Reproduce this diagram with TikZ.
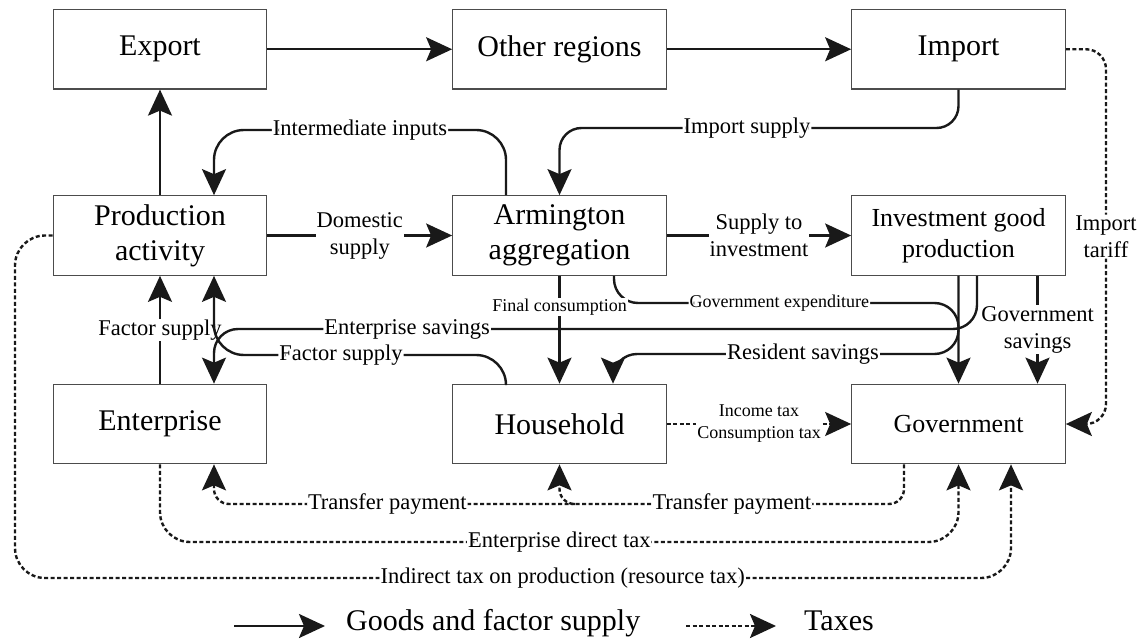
\documentclass[tikz,border=0pt]{standalone}
\usepackage{fontspec}
\setmainfont{Liberation Serif}
\usetikzlibrary{arrows.meta}
\begin{document}
\begin{tikzpicture}[x=1pt,y=-1pt,
 box/.style={draw=black!70,line width=1.2pt,minimum width=213.5pt,minimum height=79.5pt,inner sep=0pt,align=center,font=\fontsize{30}{35}\selectfont},
 boxs/.style={box,font=\fontsize{26}{31}\selectfont},
 flow/.style={line width=2.4pt,draw=black!90,-{Stealth[length=26pt,width=24pt,inset=5pt]}},
 tax/.style={flow,dash pattern=on 4pt off 2.5pt},
 lab/.style={fill=white,inner sep=1pt,font=\fontsize{22.5}{27}\selectfont,align=center,text=black},
 labs/.style={lab,font=\fontsize{18}{22}\selectfont},
 legtext/.style={anchor=mid west,inner sep=0pt,font=\fontsize{30}{35}\selectfont}
]
\useasboundingbox (0,0) rectangle (1142,644);

% boxes
\node[box] (exp) at (160,49.25) {Export};
\node[box] (oth) at (559.5,49.25) {Other regions};
\node[box] (imp) at (958.5,49.25) {Import};
\node[box] (prod) at (160,235.5) {Production\\activity};
\node[box] (arm) at (559.5,235.5) {Armington\\aggregation};
\node[boxs] (inv) at (958.5,235.5) {Investment good\\production};
\node[box] (ent) at (160,424) {Enterprise};
\node[box] (hh) at (559.5,424) {Household};
\node[boxs] (gov) at (958.5,424) {Government};

% top row
\draw[flow] (exp) -- (oth);
\draw[flow] (oth) -- (imp);
\draw[flow] (prod) -- (exp);

% intermediate inputs
\draw[flow,rounded corners=30pt] ([xshift=-53.5pt]arm.north) -- (506,130)
  -- node[lab]{Intermediate inputs} (214,130) -- ([xshift=54pt]prod.north);
% import supply
\draw[flow,rounded corners=22pt] (imp.south) -- (958.5,128)
  -- node[lab,pos=0.53]{Import supply} (559.5,128) -- (arm.north);

% middle row
\draw[flow] (prod) -- node[lab]{Domestic\\supply} (arm);
\draw[flow] (arm) -- node[lab]{Supply to\\investment} (inv);

% factor supply
\draw[flow] (ent) -- node[lab]{Factor supply} (prod);
\draw[flow,rounded corners=30pt] ([xshift=-53.5pt]hh.north) -- (506,355)
  -- node[lab,pos=0.565]{Factor supply} (214,355) -- ([xshift=54pt]prod.south);

% enterprise savings
\draw[flow,rounded corners=24pt] ([xshift=18.5pt]inv.south) -- (977,329)
  -- node[lab,pos=0.747]{Enterprise savings} (214,329) -- ([xshift=54pt]ent.north);
% resident savings
\draw[flow,rounded corners=24pt] (inv.south) -- (958.5,354)
  -- node[lab,pos=0.45]{Resident savings} (613,354) -- ([xshift=53.5pt]hh.north);
% government expenditure
\draw[flow,rounded corners=24pt] ([xshift=54.5pt]arm.south) -- (614,303)
  -- node[labs,pos=0.48]{Government expenditure} (958.5,303) -- (gov.north);
% government savings
\draw[flow] ([xshift=79pt]inv.south) -- node[lab]{Government\\savings} ([xshift=79pt]gov.north);
% final consumption
\draw[flow] (arm) -- node[labs,pos=0.29]{Final consumption} (hh);

% taxes
\draw[tax] (hh) -- node[labs]{Income tax\\Consumption tax} (gov);
\draw[tax,rounded corners=20pt] (imp.east) -- (1106,49.25)
  -- node[lab]{Import\\tariff} (1106,424) -- (gov.east);
\draw[tax,rounded corners=15pt] ([xshift=-54.5pt]gov.south) -- (904,504)
  -- node[lab]{Transfer payment} (559.5,504) -- (hh.south);
\draw[tax,rounded corners=15pt] (575,504)
  -- node[lab,pos=0.52]{Transfer payment} (214,504) -- ([xshift=54pt]ent.south);
\draw[tax,rounded corners=30pt] (ent.south) -- (160,542)
  -- node[lab]{Enterprise direct tax} (958.5,542) -- (gov.south);
\draw[tax,rounded corners=30pt] (prod.west) -- (15,235.5) -- (15,578)
  -- node[lab,pos=0.55]{Indirect tax on production (resource tax)} (1011,578) -- ([xshift=52.5pt]gov.south);

% legend
\coordinate (la) at (234,626);
\coordinate (lb) at (325,626);
\draw[flow] (la) -- (lb);
\node[legtext] (lt1) at (346,628) {Goods and factor supply};
\coordinate (lc) at (686,626);
\coordinate (ld) at (776,626);
\draw[tax] (lc) -- (ld);
\node[legtext] (lt2) at (804,628) {Taxes};
\end{tikzpicture}
\end{document}
